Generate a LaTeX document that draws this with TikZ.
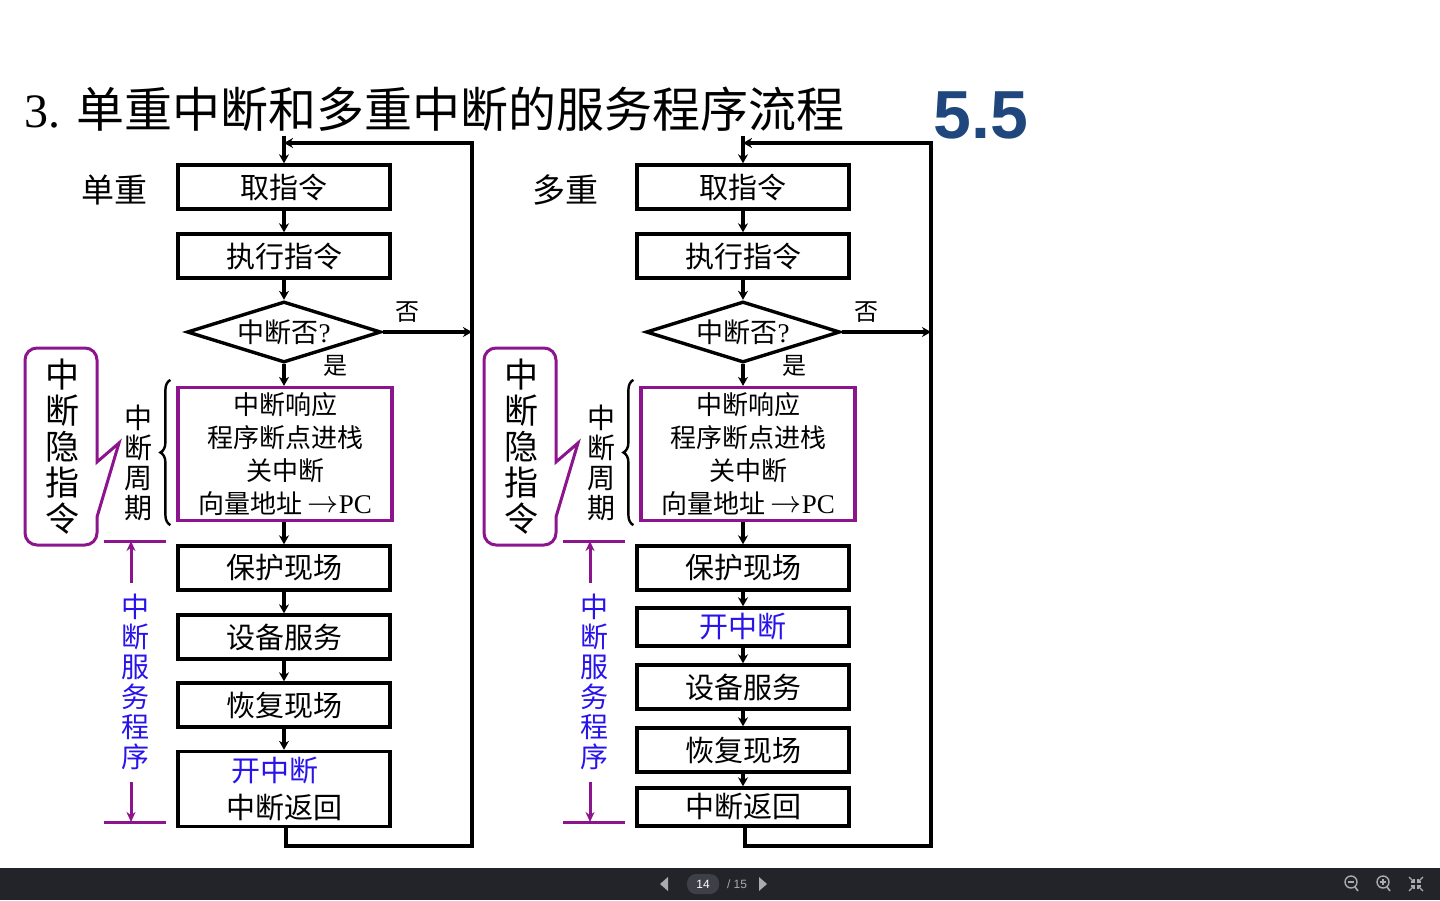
\documentclass[tikz,border=0pt]{standalone}
\usepackage{fontspec}
\setmainfont{Liberation Serif}
\newfontfamily\cjk{Noto Sans CJK SC}
\newfontfamily\arialfont{Liberation Sans}
\usetikzlibrary{arrows.meta,shapes.geometric,decorations.pathreplacing,calc}
\definecolor{intPurple}{RGB}{140,20,140}
\definecolor{intBlue}{RGB}{40,20,235}
\definecolor{numBlue}{RGB}{31,70,125}
\definecolor{barGray}{RGB}{35,36,42}
\definecolor{pillGray}{RGB}{62,64,72}
\definecolor{iconGray}{RGB}{170,170,175}
\newcommand{\toarrow}{\raisebox{0.5pt}{\scalebox{1.25}{$\rightarrow$}}}

\begin{document}
\begin{tikzpicture}[x=1pt,y=-1pt,
  box/.style={draw,line width=3.4pt,minimum width=212pt,minimum height=44pt,
    inner sep=0pt,font=\cjk\fontsize{29}{37}\selectfont},
  resp/.style={draw=intPurple,line width=3.2pt,minimum width=214pt,
    minimum height=133pt,inner sep=0pt,align=center,
    font=\cjk\fontsize{26}{33}\selectfont},
  decide/.style={diamond,draw,line width=3.4pt,aspect=3.1,minimum width=194pt,
    minimum height=61pt,inner sep=0pt,font=\cjk\fontsize{27}{30}\selectfont},
  flow/.style={line width=3.8pt,-{Stealth[length=9pt,width=10pt]}},
  vtext/.style={align=center,inner sep=0pt},
  small/.style={font=\cjk\fontsize{24}{24}\selectfont},
  svc/.style={intPurple,line width=3pt},
  svcarrow/.style={svc,-{Stealth[length=10pt,width=9pt]}},
]
\useasboundingbox (0,0) rectangle (1440,900);

% title
\node[anchor=west,inner sep=0pt,font=\fontsize{48}{48}\selectfont] (title) at (24,109)
  {3. {\cjk 单重中断和多重中断的服务程序流程}};
\node[text=numBlue,font=\arialfont\bfseries\fontsize{68}{68}\selectfont] (num) at (981,115) {5.5};

% common upper part of both flows
\foreach \dx/\s/\kind/\kx/\rx/\cx in {0/L/单重/114/285/138,459/R/多重/106/289/142} {
\begin{scope}[xshift=\dx pt]
  \node[font=\cjk\fontsize{33}{33}\selectfont] (kind\s) at (\kx,190) {\kind};
  \node[box] (fetch\s) at (284,187) {取指令};
  \node[box] (exec\s) at (284,256) {执行指令};
  \node[decide] (ask\s) at (284,332) {中断否{\rmfamily ?}};
  \node[resp] (resp\s) at (\rx,454)
    {中断响应\\程序断点进栈\\关中断\\向量地址 {\rmfamily\fontsize{27}{33}\selectfont\toarrow PC}};
  \node[box] (save\s) at (284,568) {保护现场};
  \node[small] (no\s) at (407,312) {否};
  \node[small] (yes\s) at (335,366) {是};

  \coordinate (top\s) at (472,143);
  \coordinate (bot\s) at (472,846);
  \coordinate (entry\s) at (284,143);

  \draw[flow] (fetch\s.south) -- (exec\s.north);
  \draw[flow] (exec\s.south) -- (ask\s.north);
  \draw[flow] (ask\s.south) -- (ask\s.south |- resp\s.north);
  \draw[flow] (save\s.north |- resp\s.south) -- (save\s.north);
  \draw[flow] (ask\s.east) -- (ask\s.east -| top\s);
  \draw[flow] ([yshift=7pt]entry\s) -- (fetch\s.north);

  % interrupt cycle
  \draw[line width=2.4pt,decorate,decoration={brace,amplitude=10pt}]
    ([xshift=-6pt,yshift=-3pt]resp\s.south west) -- ([xshift=-6pt,yshift=6pt]resp\s.north west);
  \node[vtext,font=\cjk\fontsize{28}{30}\selectfont] (cyc\s) at (\cx,463) {中\\断\\周\\期};

  % hidden instruction callout
  \draw[svc] (97,462) [rounded corners=12pt] -- (97,348) -- (25,348) -- (25,545)
    -- (97,545) [sharp corners] -- (97,517) -- (119,443) -- cycle;
  \node[vtext,font=\cjk\fontsize{34}{36}\selectfont] (hid\s) at (62,447) {中\\断\\隐\\指\\令};

  % service routine span
  \coordinate (svtop\s) at (131,541);
  \coordinate (svbot\s) at (131,822);
  \coordinate (svA\s) at (131,583);
  \coordinate (svB\s) at (131,782);
  \draw[svc] (104,541) -- (166,541);
  \draw[svc] (104,822) -- (166,822);
  \node[vtext,text=intBlue,font=\cjk\fontsize{28}{30}\selectfont] (svc\s) at (135,682)
    {中\\断\\服\\务\\程\\序};
  \draw[svcarrow] (svA\s) -- (svtop\s);
  \draw[svcarrow] (svB\s) -- (svbot\s);
\end{scope}
}

% single interrupt
\node[box] (servL) at (284,637) {设备服务};
\node[box] (restL) at (284,705) {恢复现场};
\node[box,minimum height=75pt,align=center] (retL) at (284,789)
  {{\color{intBlue}开中断\hspace{18pt}}\\中断返回};

% multiple interrupt
\node[box,minimum height=38pt,text=intBlue] (enR) at (743,627) {开中断};
\node[box] (servR) at (743,687) {设备服务};
\node[box] (restR) at (743,750) {恢复现场};
\node[box,minimum height=38pt] (retR) at (743,807) {中断返回};

\foreach \a/\b in {saveL/servL,servL/restL,restL/retL,
                   saveR/enR,enR/servR,servR/restR,restR/retR}
  \draw[flow] (\a.south) -- (\b.north);

\foreach \s in {L,R}
  \draw[flow] ([xshift=2pt]ret\s.south) |- (bot\s) -- (top\s) -- (entry\s);

% viewer bar
\fill[barGray] (0,868) rectangle (1440,900);
\fill[iconGray] (660,884) -- (668,877) -- (668,891) -- cycle;
\node[fill=pillGray,rounded corners=9pt,minimum width=32pt,minimum height=20pt,
  inner sep=0pt,text=white,font=\arialfont\fontsize{12}{12}\selectfont] (page) at (703,884) {14};
\node[text=iconGray,font=\arialfont\fontsize{12}{12}\selectfont] (total) at (737,884) {/ 15};
\fill[iconGray] (767,884) -- (759,877) -- (759,891) -- cycle;
\foreach \ix/\plus in {1351/0,1383/1} {
  \draw[iconGray,line width=1.4pt] (\ix,882) circle (6);
  \draw[iconGray,line width=1.6pt] (\ix+4,887) -- (\ix+7,891);
  \draw[iconGray,line width=1.2pt] (\ix-3,882) -- (\ix+3,882);
  \ifnum\plus=1 \draw[iconGray,line width=1.2pt] (\ix,879) -- (\ix,885); \fi
}
\foreach \sx/\sy in {-1/-1,1/-1,-1/1,1/1} {
  \draw[iconGray,line width=1.3pt] ({1416+\sx*7},{884+\sy*7}) -- ({1416+\sx*2},{884+\sy*2});
  \draw[iconGray,line width=1.3pt] ({1416+\sx*2},{884+\sy*5}) -- ({1416+\sx*2},{884+\sy*2})
    -- ({1416+\sx*5},{884+\sy*2});
}
\end{tikzpicture}
\end{document}
